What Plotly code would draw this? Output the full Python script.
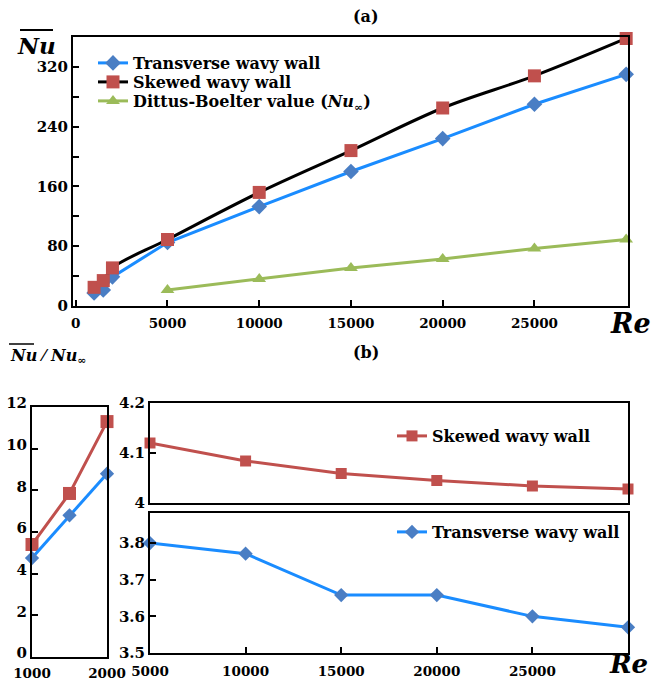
import plotly.graph_objects as go

# ---------------- data ----------------
re_a = [1000, 1500, 2000, 5000, 10000, 15000, 20000, 25000, 30000]
nu_transverse = [17.5, 21.5, 39, 85, 133, 180, 224, 270, 310]
nu_skewed = [25, 34, 51, 89, 152, 208, 265, 308, 358]
re_db = [5000, 10000, 15000, 20000, 25000, 30000]
nu_dittus = [21.5, 36, 51, 63, 77, 89]

re_low = [1000, 1500, 2000]
ratio_skewed_low = [5.4, 7.85, 11.3]
ratio_transverse_low = [4.75, 6.8, 8.8]
re_high = [5000, 10000, 15000, 20000, 25000, 30000]
ratio_skewed_high = [4.12, 4.084, 4.059, 4.045, 4.034, 4.028]
ratio_transverse_high = [3.80, 3.771, 3.658, 3.658, 3.60, 3.57]

xticks_a = [0, 5000, 10000, 15000, 20000, 25000]
xticks_b = [5000, 10000, 15000, 20000, 25000]
xticks_low = [1000, 2000]

# ---------------- style ----------------
W, H = 653, 682
FONT = "DejaVu Serif"
BLUE_LINE = "#1a8cff"
BLUE_MK = "#4a7ec4"
RED = "#c0504d"
GREEN = "#9bbb59"

def px(x):
    return x / W

def py(y):
    return 1 - y / H

fig = go.Figure()

# (a)
fig.add_trace(go.Scatter(x=re_a, y=nu_transverse, mode="lines+markers", name="Transverse wavy wall",
                         line=dict(color=BLUE_LINE, width=3),
                         marker=dict(symbol="diamond", size=12, color=BLUE_MK),
                         xaxis="x", yaxis="y", legend="legend", cliponaxis=False))
fig.add_trace(go.Scatter(x=re_a, y=nu_skewed, mode="lines+markers", name="Skewed wavy wall",
                         line=dict(color="black", width=3, shape="spline", smoothing=1.0),
                         marker=dict(symbol="square", size=13, color=RED),
                         xaxis="x", yaxis="y", legend="legend4", cliponaxis=False))
fig.add_trace(go.Scatter(x=re_db, y=nu_dittus, mode="lines+markers",
                         name="Dittus-Boelter value (<i>Nu</i><sub>∞</sub>)",
                         line=dict(color=GREEN, width=3),
                         marker=dict(symbol="triangle-up", size=12, color=GREEN),
                         xaxis="x", yaxis="y", legend="legend5", cliponaxis=False))

# (b) left
fig.add_trace(go.Scatter(x=re_low, y=ratio_skewed_low, mode="lines+markers", showlegend=False,
                         line=dict(color=RED, width=3),
                         marker=dict(symbol="square", size=13, color=RED),
                         xaxis="x2", yaxis="y2", cliponaxis=False))
fig.add_trace(go.Scatter(x=re_low, y=ratio_transverse_low, mode="lines+markers", showlegend=False,
                         line=dict(color=BLUE_LINE, width=3),
                         marker=dict(symbol="diamond", size=11, color=BLUE_MK),
                         xaxis="x2", yaxis="y2", cliponaxis=False))

# (b) right top
fig.add_trace(go.Scatter(x=re_high, y=ratio_skewed_high, mode="lines+markers", name="Skewed wavy wall",
                         line=dict(color=RED, width=3),
                         marker=dict(symbol="square", size=11, color=RED),
                         xaxis="x3", yaxis="y3", legend="legend2", cliponaxis=False))
# (b) right bottom
fig.add_trace(go.Scatter(x=re_high, y=ratio_transverse_high, mode="lines+markers", name="Transverse wavy wall",
                         line=dict(color=BLUE_LINE, width=3),
                         marker=dict(symbol="diamond", size=11, color=BLUE_MK),
                         xaxis="x4", yaxis="y4", legend="legend3", cliponaxis=False))

yfont = dict(family=FONT, size=15, color="black", weight="bold")
xfont = dict(family=FONT, size=13.5, color="black", weight="bold")
axis_common = dict(showline=True, linecolor="black", linewidth=2, mirror=True, showgrid=False,
                   zeroline=False, ticks="inside", ticklen=6, tickwidth=2, tickcolor="black",
                   automargin=False)
xa = {**axis_common, "tickfont": xfont}
xa_no = {**xa, "ticks": ""}
ya = {**axis_common, "tickfont": yfont}

legend_font = dict(family=FONT, size=16, color="black", weight="bold")
leg = dict(xanchor="left", yanchor="top", bgcolor="rgba(0,0,0,0)", font=legend_font, itemwidth=30)

fig.update_layout(
    width=W, height=H, margin=dict(l=0, r=0, t=0, b=0, autoexpand=False),
    paper_bgcolor="white", plot_bgcolor="white",
    xaxis=dict(domain=[px(73), px(628)], anchor="y", range=[-150, 30100],
               tickvals=xticks_a, ticktext=[str(v) for v in xticks_a], ticklabelstandoff=4, **xa),
    yaxis=dict(domain=[py(306), py(37)], anchor="x", range=[0, 360], tick0=0, dtick=80,
               minor=dict(dtick=40, ticks="inside", ticklen=6, tickwidth=2, tickcolor="black"),
               **ya),
    xaxis2=dict(domain=[px(32), px(107)], anchor="y2", range=[1000, 2000],
                tickvals=xticks_low, ticktext=[str(v) for v in xticks_low], ticklabelstandoff=3, **xa_no),
    yaxis2=dict(domain=[py(657), py(407)], anchor="x2", range=[0, 12], dtick=2,
                ticklabelshift=-4, **ya),
    xaxis3=dict(domain=[px(150), px(628)], anchor="y3", range=[5000, 30000],
                showticklabels=False, **xa_no),
    yaxis3=dict(domain=[py(503), py(403)], anchor="x3", range=[4, 4.2],
                tickvals=[4, 4.1, 4.2], ticktext=["4", "4.1", "4.2"], **ya),
    xaxis4=dict(domain=[px(150), px(628)], anchor="y4", range=[5000, 30000],
                tickvals=xticks_b, ticktext=[str(v) for v in xticks_b], ticklabelstandoff=5, **xa),
    yaxis4=dict(domain=[py(653), py(513)], anchor="x4", range=[3.5, 3.882], dtick=0.1,
                tickformat=".1f", **ya),
    legend=dict(x=px(93), y=py(46), **leg),
    legend4=dict(x=px(93), y=py(65), **leg),
    legend5=dict(x=px(93), y=py(84), **leg),
    legend2=dict(x=px(392), y=py(419), **leg),
    legend3=dict(x=px(392), y=py(515), **leg),
)

ann_font = dict(family=FONT, color="black", weight="bold")
annotations = [
    dict(x=px(366), y=py(17), text="(a)", font=dict(size=16, **ann_font)),
    dict(x=px(366), y=py(352), text="(b)", font=dict(size=16, **ann_font)),
    dict(x=px(36), y=py(46), text="<i>Nu</i>", font=dict(size=23, **ann_font)),
    dict(x=px(630), y=py(323), text="<i>Re</i>", font=dict(size=27, **ann_font)),
    dict(x=px(628), y=py(664), text="<i>Re</i>", font=dict(size=26, **ann_font)),
    dict(x=px(8), y=py(356), xanchor="left",
         text="<i>Nu</i> ⁄ <i>Nu</i><sub>∞</sub>", font=dict(size=16, **ann_font)),
]
for a in annotations:
    a.setdefault("xanchor", "center")
    a.update(xref="paper", yref="paper", yanchor="middle", showarrow=False)
fig.update_layout(annotations=annotations)

# overlines
fig.add_shape(type="line", xref="paper", yref="paper", x0=px(20), x1=px(53), y0=py(30), y1=py(30),
              line=dict(color="black", width=2))
fig.add_shape(type="line", xref="paper", yref="paper", x0=px(9), x1=px(34), y0=py(344), y1=py(344),
              line=dict(color="black", width=1.5))

fig.write_html("out.html")
